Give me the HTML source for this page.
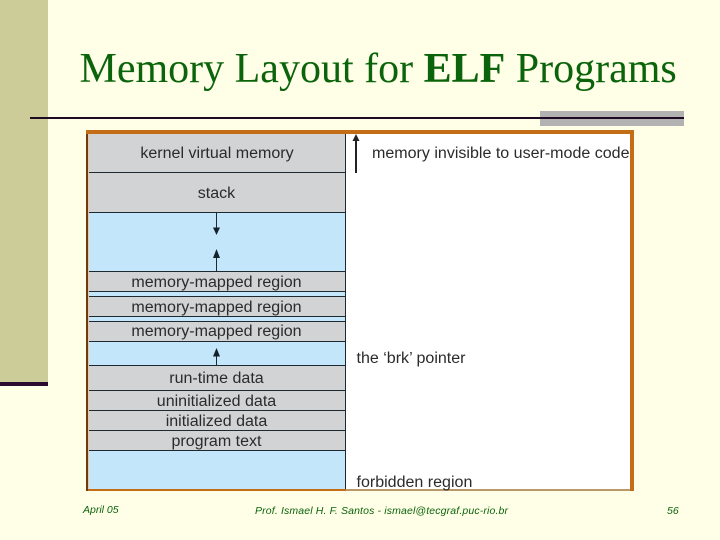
<!DOCTYPE html>
<html>
<head>
<meta charset="utf-8">
<style>
html,body{margin:0;padding:0;background:#ffffe8;}
svg{display:block;}
</style>
</head>
<body>
<svg xmlns="http://www.w3.org/2000/svg" width="720" height="540" viewBox="0 0 720 540">
<rect width="720" height="540" fill="#ffffe8"/>
<rect x="0" y="0" width="48" height="382" fill="#cccc99"/>
<rect x="0" y="382" width="48" height="4" fill="#2a0a30"/>
<rect x="540" y="111" width="144" height="15" fill="#b2b2b2"/>
<rect x="30" y="117" width="654" height="2" fill="#1f0a26"/>
<text x="79.5" y="82" font-family="Liberation Serif, serif" font-size="42" fill="#0b640b">Memory Layout for <tspan font-weight="bold">ELF</tspan> Programs</text>

<rect x="86" y="130" width="548" height="361" fill="#c46d17"/>
<rect x="86" y="134" width="2" height="357" fill="#6e3a10"/>
<rect x="88" y="134" width="542" height="355" fill="#ffffff"/>
<rect x="346" y="489" width="284" height="2" fill="#b9986a"/>
<rect x="88" y="134" width="1" height="355" fill="#e8c8a8"/>

<g fill="#d2d3d5">
<rect x="89" y="134" width="256" height="78"/>
<rect x="89" y="271" width="256" height="20"/>
<rect x="89" y="296" width="256" height="20"/>
<rect x="89" y="321" width="256" height="20"/>
<rect x="89" y="365" width="256" height="85"/>
</g>
<g fill="#c3e6fa">
<rect x="89" y="212" width="256" height="59"/>
<rect x="89" y="291" width="256" height="5"/>
<rect x="89" y="316" width="256" height="5"/>
<rect x="89" y="341" width="256" height="24"/>
<rect x="89" y="450" width="256" height="39"/>
</g>
<g stroke="#1e2a30" stroke-width="1" fill="none">
<path d="M345.5 134V489"/>
<path d="M89 172.5H345M89 212.5H345M89 271.5H345M89 291.5H345M89 296.5H345M89 316.5H345M89 321.5H345M89 341.5H345M89 365.5H345M89 390.5H345M89 410.5H345M89 430.5H345M89 450.5H345"/>
<path d="M216.5 212V228M216.5 258V271M216.5 356V365"/>
</g>
<g fill="#14222c">
<path d="M213 227.5H220L216.5 235Z"/>
<path d="M213 258H220L216.5 249Z"/>
<path d="M213 356.5H220L216.5 348Z"/>
</g>
<rect x="355" y="141" width="2" height="32" fill="#222222"/>
<path d="M352.5 141H359.5L356 134Z" fill="#222222"/>

<g font-family="Liberation Sans, sans-serif" font-size="16.05" fill="#2b2b2b" text-anchor="middle">
<text x="217" y="158">kernel virtual memory</text>
<text x="216.5" y="198">stack</text>
<text x="216.5" y="287">memory-mapped region</text>
<text x="216.5" y="312">memory-mapped region</text>
<text x="216.5" y="336">memory-mapped region</text>
<text x="216.5" y="383">run-time data</text>
<text x="216.5" y="406">uninitialized data</text>
<text x="216.5" y="426">initialized data</text>
<text x="216.5" y="446">program text</text>
</g>
<g font-family="Liberation Sans, sans-serif" font-size="16.05" fill="#2b2b2b">
<text x="372" y="158">memory invisible to user-mode code</text>
<text x="356.5" y="363">the ‘brk’ pointer</text>
<text x="356.5" y="487">forbidden region</text>
</g>
<g font-family="Liberation Sans, sans-serif" font-size="10.5" font-style="italic" fill="#0b640b">
<text x="83" y="513">April 05</text>
<text x="255" y="514" textLength="253" lengthAdjust="spacing">Prof. Ismael H. F. Santos -  ismael@tecgraf.puc-rio.br</text>
<text x="667" y="514">56</text>
</g>
</svg>
</body>
</html>
